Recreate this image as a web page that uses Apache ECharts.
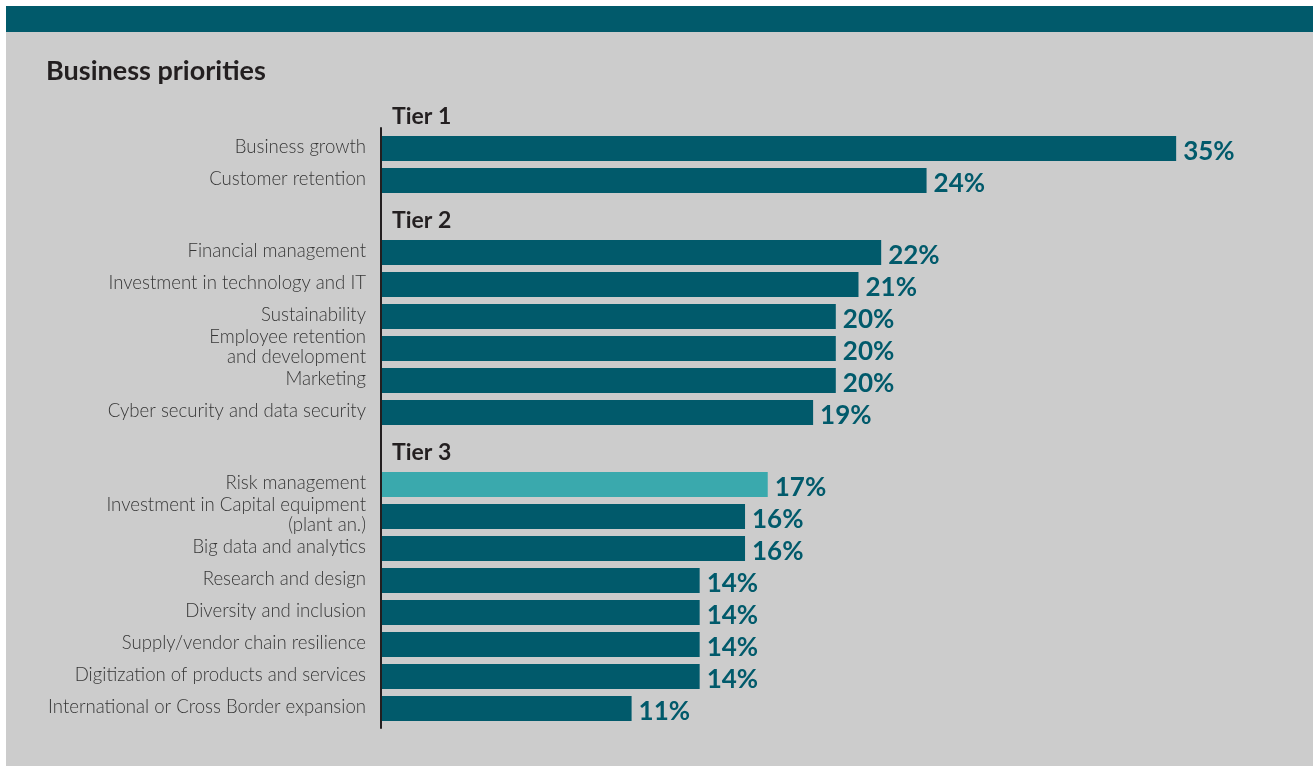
<!DOCTYPE html>
<html>
<head>
<meta charset="utf-8">
<title>Business priorities</title>
<script src="https://cdn.jsdelivr.net/npm/echarts@6/dist/echarts.min.js"></script>
<style>
  html, body { margin: 0; padding: 0; background: #ffffff; }
  #chart { width: 1313px; height: 766px; }
</style>
</head>
<body>
<div id="chart"></div>
<script>
// Share of respondents naming each business priority, grouped by tier
const tierNames = ['Tier 1', 'Tier 2', 'Tier 3'];

const tier1Categories = ['Business growth', 'Customer retention'];
const tier1Values = [35, 24];

const tier2Categories = [
  'Financial management',
  'Investment in technology and IT',
  'Sustainability',
  'Employee retention\nand development',
  'Marketing',
  'Cyber security and data security'
];
const tier2Values = [22, 21, 20, 20, 20, 19];

const tier3Categories = [
  'Risk management',
  'Investment in Capital equipment\n(plant an.)',
  'Big data and analytics',
  'Research and design',
  'Diversity and inclusion',
  'Supply/vendor chain resilience',
  'Digitization of products and services',
  'International or Cross Border expansion'
];
const tier3Values = [17, 16, 16, 14, 14, 14, 14, 11];

const highlightCategory = 'Risk management';

// Palette and type
const TEAL = '#015a6b';
const TEAL_LIGHT = '#3aa9ad';
const INK = '#231f20';
const LABEL_INK = '#363636';
const PANEL = '#cccccc';
const FONT = 'Lato, "Noto Sans", sans-serif';

// Row layout in axis units: one unit per bar, extra room before each tier heading
const TIER_GAP = 1.25;
const HEADER_LIFT = 1.0;
const BAR_RATIO = 25 / 32;

const tiers = [
  { name: tierNames[0], categories: tier1Categories, values: tier1Values },
  { name: tierNames[1], categories: tier2Categories, values: tier2Values },
  { name: tierNames[2], categories: tier3Categories, values: tier3Values }
];

const barData = [];
const barNames = [];
const headerData = [];
const headerNames = [];
let row = 0;
tiers.forEach((tier, t) => {
  if (t > 0) row += TIER_GAP;
  headerData.push([0, row - HEADER_LIFT]);
  headerNames.push(tier.name);
  tier.categories.forEach((cat, i) => {
    barData.push([tier.values[i], row]);
    barNames.push(cat);
    row += 1;
  });
});

const chart = echarts.init(document.getElementById('chart'), null, { renderer: 'canvas' });

chart.setOption({
  backgroundColor: '#ffffff',
  animation: false,
  graphic: [
    { type: 'rect', left: 6, top: 6, shape: { width: 1307, height: 760 }, style: { fill: PANEL }, z: -10 },
    { type: 'rect', left: 6, top: 6, shape: { width: 1307, height: 26 }, style: { fill: TEAL }, z: -9 }
  ],
  title: {
    text: 'Business priorities',
    left: 41,
    top: 53,
    textStyle: { fontFamily: FONT, fontWeight: 'bold', fontSize: 27, color: INK }
  },
  grid: { left: 382, top: 128, width: 40 * 22.69, height: 600 },
  xAxis: {
    type: 'value',
    min: 0,
    max: 40,
    show: false
  },
  yAxis: {
    type: 'value',
    inverse: true,
    min: -0.64,
    max: 18.11,
    offset: 1.5,
    axisLine: { show: true, onZero: false, lineStyle: { color: INK, width: 2 } },
    axisTick: { show: false },
    axisLabel: { show: false },
    splitLine: { show: false }
  },
  series: [
    {
      name: 'Priorities',
      type: 'custom',
      clip: false,
      data: barData,
      encode: { x: 0, y: 1 },
      renderItem: function (params, api) {
        const value = api.value(0);
        const pos = api.value(1);
        const start = api.coord([0, pos]);
        const end = api.coord([value, pos]);
        const h = api.size([0, 1])[1] * BAR_RATIO;
        const name = barNames[params.dataIndex];
        return {
          type: 'group',
          children: [
            {
              type: 'rect',
              shape: { x: start[0], y: start[1] - h / 2, width: end[0] - start[0], height: h },
              style: { fill: name === highlightCategory ? TEAL_LIGHT : TEAL }
            },
            {
              type: 'text',
              x: end[0] + 7,
              y: end[1] + 3,
              style: {
                text: value + '%',
                fill: TEAL,
                font: 'bold 26px ' + FONT,
                align: 'left',
                verticalAlign: 'middle'
              }
            },
            {
              type: 'text',
              x: start[0] - 16,
              y: start[1] - 1,
              style: {
                text: name,
                fill: LABEL_INK,
                font: '300 18.6px ' + FONT,
                lineHeight: 20,
                align: 'right',
                verticalAlign: 'middle'
              }
            }
          ]
        };
      }
    },
    {
      name: 'Tiers',
      type: 'custom',
      clip: false,
      data: headerData,
      encode: { x: 0, y: 1 },
      renderItem: function (params, api) {
        const p = api.coord([api.value(0), api.value(1)]);
        return {
          type: 'text',
          x: p[0] + 10,
          y: p[1],
          style: {
            text: headerNames[params.dataIndex],
            fill: INK,
            font: 'bold 23px ' + FONT,
            align: 'left',
            verticalAlign: 'middle'
          }
        };
      }
    }
  ]
});
</script>
</body>
</html>
